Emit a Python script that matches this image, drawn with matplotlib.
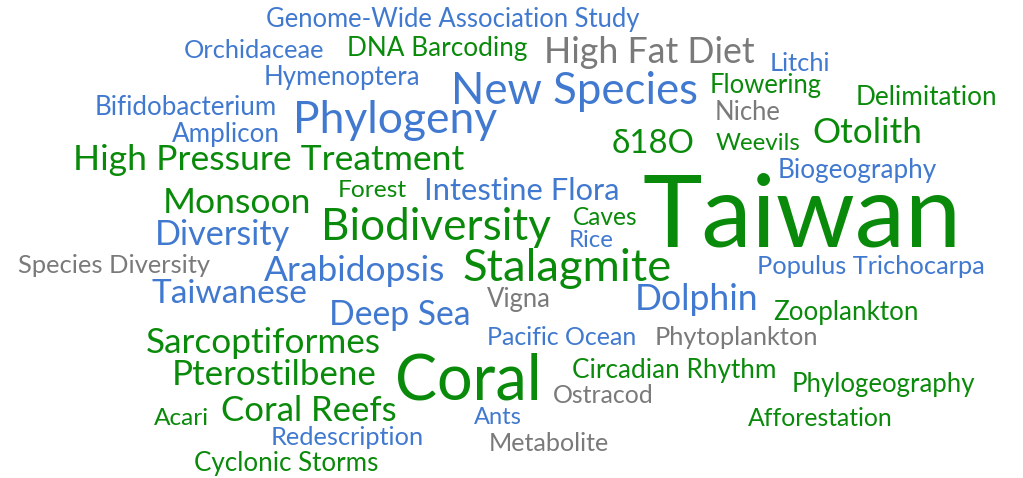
"""
Keyword fingerprint word cloud
"""

import matplotlib
matplotlib.use("Agg")
import matplotlib.pyplot as plt

# words and their colour group (b = blue, g = green, k = grey)
words = [
    "Genome-Wide Association Study", "Orchidaceae", "DNA Barcoding", "High Fat Diet",
    "Litchi", "Hymenoptera", "New Species", "Flowering", "Delimitation",
    "Bifidobacterium", "Phylogeny", "Niche", "Amplicon", "\u03b418O", "Weevils",
    "Otolith", "High Pressure Treatment", "Biogeography", "Taiwan", "Forest",
    "Intestine Flora", "Monsoon", "Biodiversity", "Caves", "Diversity", "Rice",
    "Species Diversity", "Arabidopsis", "Stalagmite", "Populus Trichocarpa",
    "Taiwanese", "Vigna", "Dolphin", "Deep Sea", "Zooplankton", "Pacific Ocean",
    "Phytoplankton", "Sarcoptiformes", "Coral", "Circadian Rhythm", "Pterostilbene",
    "Phylogeography", "Ostracod", "Acari", "Coral Reefs", "Ants", "Afforestation",
    "Redescription", "Metabolite", "Cyclonic Storms",
]
groups = [
    "b", "b", "g", "k",
    "b", "b", "b", "g", "g",
    "b", "b", "k", "b", "g", "g",
    "g", "g", "b", "g", "g",
    "b", "g", "g", "g", "b", "b",
    "k", "b", "g", "b",
    "b", "k", "b", "b", "g", "b",
    "k", "g", "g", "g", "g",
    "g", "k", "g", "g", "b", "g",
    "b", "k", "g",
]

# layout: left edge, right edge, baseline (pixels)
x_left = [
    266, 184, 347, 544,
    770, 264, 451, 710, 856,
    95, 293, 715, 172, 612, 716,
    812, 73, 778, 642, 338,
    424, 163, 321, 573, 155, 569,
    18, 264, 462, 757,
    152, 487, 635, 329, 773, 487,
    655, 146, 395, 572, 172,
    792, 553, 154, 221, 474, 748,
    271, 489, 194,
]
x_right = [
    640, 325, 527, 755,
    831, 420, 698, 822, 998,
    277, 497, 781, 280, 695, 801,
    922, 465, 937, 961, 407,
    620, 311, 551, 638, 291, 614,
    210, 446, 671, 985,
    308, 551, 759, 471, 918, 637,
    819, 381, 542, 776, 377,
    975, 654, 209, 397, 522, 893,
    425, 610, 378,
]
baseline = [
    27, 58, 56, 63,
    71, 85, 104, 93, 105,
    115, 133, 120, 142, 153, 150,
    143, 170, 178, 246, 197,
    200, 213, 240, 225, 245, 247,
    273, 281, 281, 274,
    303, 307, 310, 325, 320, 345,
    345, 353, 399, 378, 385,
    392, 403, 425, 421, 424, 426,
    445, 451, 471,
]

palette = {"b": "#4079cf", "g": "#0a8a0a", "k": "#7a7a7a"}

W, H = 1023, 478
fig = plt.figure(figsize=(W / 100, H / 100), dpi=100)
ax = fig.add_axes([0, 0, 1, 1])
ax.set_xlim(0, W)
ax.set_ylim(H, 0)
ax.axis("off")
plt.rcParams["font.family"] = ["Lato", "DejaVu Sans"]

renderer = fig.canvas.get_renderer()
for w, g, x0, x1, y in zip(words, groups, x_left, x_right, baseline):
    t = ax.text(x0, y, w, color=palette[g], fontsize=20,
                ha="left", va="baseline")
    width = t.get_window_extent(renderer).width
    t.set_fontsize(20 * (x1 - x0) / width)

fig.savefig("out.png", dpi=100)
